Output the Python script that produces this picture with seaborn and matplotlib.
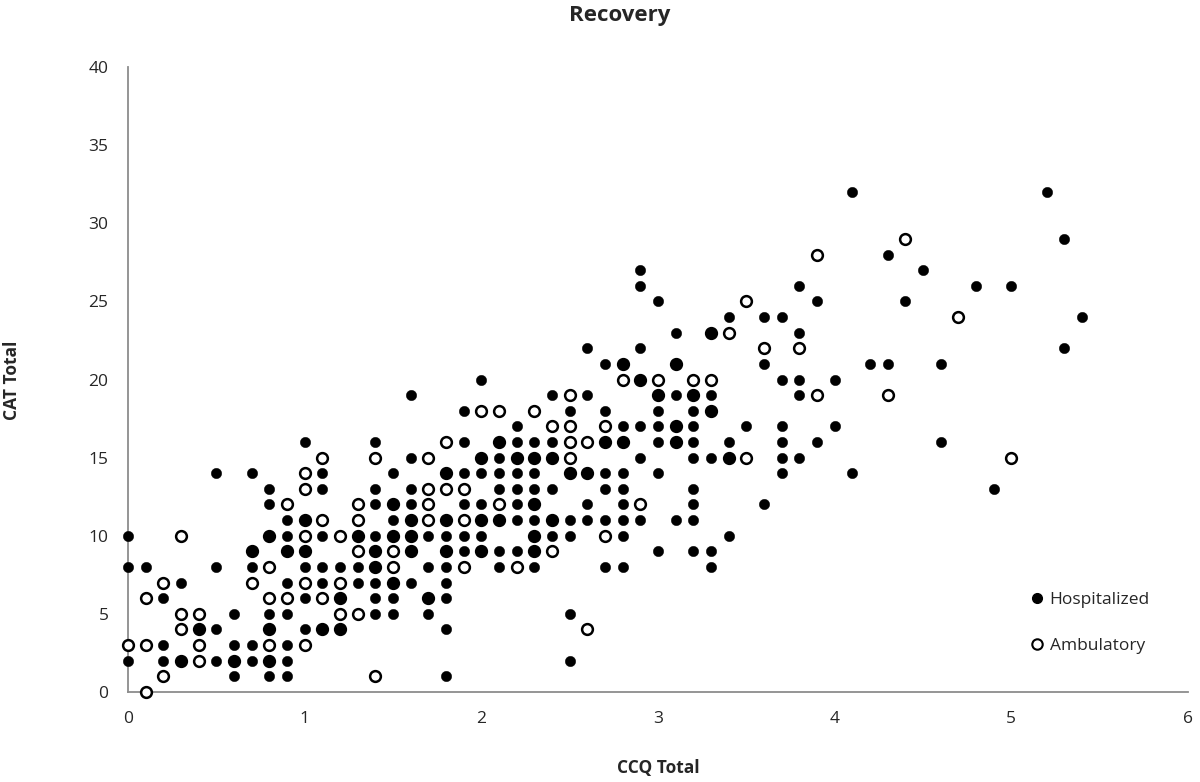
import numpy as np
import pandas as pd
import seaborn as sns
import matplotlib.pyplot as plt
from matplotlib.lines import Line2D

# Hospitalized patients: CCQ total (x) and CAT total (y), read column by column
hosp_ccq = [0.0, 0.0, 0.0,
            0.1,
            0.2, 0.2, 0.2,
            0.3, 0.3,
            0.4,
            0.5, 0.5, 0.5, 0.5,
            0.6, 0.6, 0.6, 0.6,
            0.7, 0.7, 0.7, 0.7, 0.7,
            0.8, 0.8, 0.8, 0.8, 0.8, 0.8, 0.8,
            0.9, 0.9, 0.9, 0.9, 0.9, 0.9, 0.9, 0.9,
            1.0, 1.0, 1.0, 1.0, 1.0, 1.0,
            1.1, 1.1, 1.1, 1.1, 1.1, 1.1,
            1.2, 1.2, 1.2,
            1.3, 1.3, 1.3,
            1.4, 1.4, 1.4, 1.4, 1.4, 1.4, 1.4, 1.4, 1.4,
            1.5, 1.5, 1.5, 1.5, 1.5, 1.5, 1.5,
            1.6, 1.6, 1.6, 1.6, 1.6, 1.6, 1.6, 1.6,
            1.7, 1.7, 1.7, 1.7,
            1.8, 1.8, 1.8, 1.8, 1.8, 1.8, 1.8, 1.8, 1.8,
            1.9, 1.9, 1.9, 1.9, 1.9, 1.9,
            2.0, 2.0, 2.0, 2.0, 2.0, 2.0, 2.0,
            2.1, 2.1, 2.1, 2.1, 2.1, 2.1, 2.1,
            2.2, 2.2, 2.2, 2.2, 2.2, 2.2, 2.2, 2.2,
            2.3, 2.3, 2.3, 2.3, 2.3, 2.3, 2.3, 2.3, 2.3,
            2.4, 2.4, 2.4, 2.4, 2.4, 2.4,
            2.5, 2.5, 2.5, 2.5, 2.5, 2.5,
            2.6, 2.6, 2.6, 2.6, 2.6,
            2.7, 2.7, 2.7, 2.7, 2.7, 2.7, 2.7,
            2.8, 2.8, 2.8, 2.8, 2.8, 2.8, 2.8, 2.8, 2.8,
            2.9, 2.9, 2.9, 2.9, 2.9, 2.9, 2.9,
            3.0, 3.0, 3.0, 3.0, 3.0, 3.0, 3.0,
            3.1, 3.1, 3.1, 3.1, 3.1, 3.1,
            3.2, 3.2, 3.2, 3.2, 3.2, 3.2, 3.2, 3.2, 3.2,
            3.3, 3.3, 3.3, 3.3, 3.3, 3.3,
            3.4, 3.4, 3.4, 3.4,
            3.5,
            3.6, 3.6, 3.6,
            3.7, 3.7, 3.7, 3.7, 3.7, 3.7,
            3.8, 3.8, 3.8, 3.8, 3.8,
            3.9, 3.9,
            4.0, 4.0,
            4.1, 4.1,
            4.2,
            4.3, 4.3,
            4.4,
            4.5,
            4.6, 4.6,
            4.8,
            4.9,
            5.0,
            5.2,
            5.3, 5.3,
            5.4]
hosp_cat = [10, 8, 2,
            8,
            6, 3, 2,
            7, 2,
            4,
            14, 8, 4, 2,
            5, 3, 2, 1,
            14, 9, 8, 3, 2,
            13, 12, 10, 5, 4, 2, 1,
            11, 10, 9, 7, 5, 3, 2, 1,
            16, 11, 9, 8, 6, 4,
            14, 13, 10, 8, 7, 4,
            8, 6, 4,
            10, 8, 7,
            16, 13, 12, 10, 9, 8, 7, 6, 5,
            14, 12, 11, 10, 7, 6, 5,
            19, 15, 13, 12, 11, 10, 9, 7,
            10, 8, 6, 5,
            14, 11, 10, 9, 8, 7, 6, 4, 1,
            18, 16, 14, 12, 10, 9,
            20, 15, 14, 12, 11, 10, 9,
            16, 15, 14, 13, 11, 9, 8,
            17, 16, 15, 14, 13, 12, 11, 9,
            16, 15, 14, 13, 12, 11, 10, 9, 8,
            19, 16, 15, 13, 11, 10,
            18, 14, 11, 10, 5, 2,
            22, 19, 14, 12, 11,
            21, 18, 16, 14, 13, 11, 8,
            21, 17, 16, 14, 13, 12, 11, 10, 8,
            27, 26, 22, 20, 17, 15, 11,
            25, 19, 18, 17, 16, 14, 9,
            23, 21, 19, 17, 16, 11,
            19, 18, 17, 16, 15, 13, 12, 11, 9,
            23, 19, 18, 15, 9, 8,
            24, 16, 15, 10,
            17,
            24, 21, 12,
            24, 20, 17, 16, 15, 14,
            26, 23, 20, 19, 15,
            25, 16,
            20, 17,
            32, 14,
            21,
            28, 21,
            25,
            27,
            21, 16,
            26,
            13,
            26,
            32,
            29, 22,
            24]

# Ambulatory patients
amb_ccq = [0.0,
           0.1, 0.1, 0.1,
           0.2, 0.2,
           0.3, 0.3, 0.3, 0.3,
           0.4, 0.4, 0.4, 0.4,
           0.6,
           0.7, 0.7,
           0.8, 0.8, 0.8, 0.8, 0.8, 0.8,
           0.9, 0.9, 0.9,
           1.0, 1.0, 1.0, 1.0, 1.0, 1.0, 1.0,
           1.1, 1.1, 1.1, 1.1,
           1.2, 1.2, 1.2, 1.2, 1.2,
           1.3, 1.3, 1.3, 1.3, 1.3,
           1.4, 1.4, 1.4, 1.4,
           1.5, 1.5, 1.5, 1.5, 1.5,
           1.6, 1.6, 1.6,
           1.7, 1.7, 1.7, 1.7, 1.7,
           1.8, 1.8, 1.8, 1.8, 1.8,
           1.9, 1.9, 1.9,
           2.0, 2.0, 2.0, 2.0,
           2.1, 2.1, 2.1, 2.1,
           2.2, 2.2,
           2.3, 2.3, 2.3, 2.3, 2.3,
           2.4, 2.4, 2.4, 2.4,
           2.5, 2.5, 2.5, 2.5, 2.5,
           2.6, 2.6, 2.6,
           2.7, 2.7, 2.7,
           2.8, 2.8, 2.8,
           2.9, 2.9,
           3.0, 3.0,
           3.1, 3.1, 3.1,
           3.2, 3.2,
           3.3, 3.3, 3.3,
           3.4, 3.4,
           3.5, 3.5,
           3.6,
           3.8,
           3.9, 3.9,
           4.3,
           4.4,
           4.7,
           5.0]
amb_cat = [3,
           6, 3, 0,
           7, 1,
           10, 5, 4, 2,
           5, 4, 3, 2,
           2,
           9, 7,
           10, 8, 6, 4, 3, 2,
           12, 9, 6,
           14, 13, 11, 10, 9, 7, 3,
           15, 11, 6, 4,
           10, 7, 6, 5, 4,
           12, 11, 10, 9, 5,
           15, 9, 8, 1,
           12, 10, 9, 8, 7,
           11, 10, 9,
           15, 13, 12, 11, 6,
           16, 14, 13, 11, 9,
           13, 11, 8,
           18, 15, 11, 9,
           18, 16, 12, 11,
           15, 8,
           18, 15, 12, 10, 9,
           17, 15, 11, 9,
           19, 17, 16, 15, 14,
           16, 14, 4,
           17, 16, 10,
           21, 20, 16,
           20, 12,
           20, 19,
           21, 17, 16,
           20, 19,
           23, 20, 18,
           23, 15,
           25, 15,
           22,
           22,
           28, 19,
           19,
           29,
           24,
           15]

hosp = pd.DataFrame({"CCQ": hosp_ccq, "CAT": hosp_cat})
amb = pd.DataFrame({"CCQ": amb_ccq, "CAT": amb_cat})

sns.set_style("white")
plt.rcParams['font.family'] = ['Open Sans', 'DejaVu Sans']

fig = plt.figure(figsize=(12, 7.82), dpi=100)
ax = fig.add_axes([0.1067, 0.1151, 0.8833, 0.7992])

# open circles first, filled dots on top (overlaps look like bigger dots)
sns.scatterplot(data=amb, x="CCQ", y="CAT", ax=ax, marker="o", s=60,
                facecolor="white", edgecolor="black", linewidth=1.8,
                clip_on=False, zorder=3)
sns.scatterplot(data=hosp, x="CCQ", y="CAT", ax=ax, marker="o", s=56,
                color="black", edgecolor="black", linewidth=0.3,
                clip_on=False, zorder=4)

ax.set_xlim(0, 6)
ax.set_ylim(0, 40)
ax.set_xticks(range(0, 7))
ax.set_yticks(range(0, 41, 5))
ax.tick_params(axis="both", direction="out", length=6, width=1.2,
               color="#8c8c8c", labelsize=12.5, pad=8)

for side in ["top", "right"]:
    ax.spines[side].set_visible(False)
for side in ["left", "bottom"]:
    ax.spines[side].set_color("#8c8c8c")
    ax.spines[side].set_linewidth(1.3)

ax.set_xlabel("")
ax.set_ylabel("")
fig.text(658 / 1200, 1 - 768 / 782, "CCQ Total", fontsize=12.5,
         fontweight="bold", ha="center", va="center")
fig.text(12 / 1200, 1 - 380 / 782, "CAT Total", fontsize=12.5,
         fontweight="bold", ha="center", va="center", rotation=90)
fig.text(620 / 1200, 1 - 16 / 782, "Recovery", fontsize=16,
         fontweight="bold", ha="center", va="center")

handles = [Line2D([], [], marker="o", linestyle="none", markerfacecolor="black",
                  markeredgecolor="black", markersize=7),
           Line2D([], [], marker="o", linestyle="none", markerfacecolor="white",
                  markeredgecolor="black", markeredgewidth=1.5, markersize=7.5)]
ax.legend(handles, ["Hospitalized", "Ambulatory"], loc="lower left",
          bbox_to_anchor=(0.835, 0.035), frameon=False, fontsize=12.5,
          handletextpad=0.2, labelspacing=1.75, handlelength=1.0)

plt.savefig("out.png", dpi=100)
